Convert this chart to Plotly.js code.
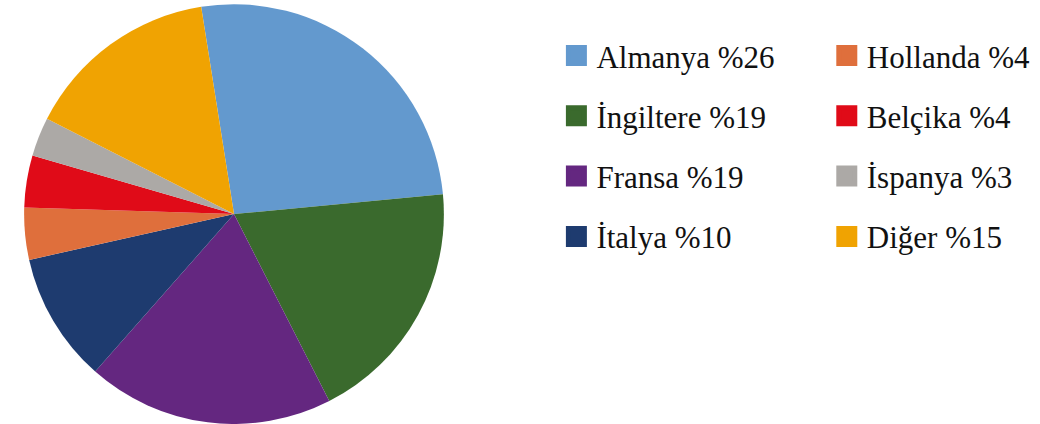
<!DOCTYPE html>
<html>
<head>
<meta charset="utf-8">
<script src="https://cdn.plot.ly/plotly-3.0.1.min.js"></script>
<style>html,body{margin:0;padding:0;background:#fff;}#chart{width:1040px;height:424px;}</style>
</head>
<body>
<div id="chart"></div>
<script>
const countries = ["Almanya", "İngiltere", "Fransa", "İtalya", "Hollanda", "Belçika", "İspanya", "Diğer"];
const shares = [26, 19, 19, 10, 4, 4, 3, 15];
const colors = ["#6399CE", "#3A6A2D", "#642780", "#1E3B6F", "#DF6F3C", "#E00B18", "#ACA9A6", "#F0A302"];
const legendLabels = countries.map((c, i) => c + " %" + shares[i]);

const traces = [{
  type: "pie",
  labels: countries,
  values: shares,
  sort: false,
  direction: "clockwise",
  rotation: -9,
  marker: {colors: colors, line: {width: 0}},
  textinfo: "none",
  hoverinfo: "label+percent",
  showlegend: false,
  domain: {x: [0.01, 0.44], y: [0.0, 0.99]}
}];

countries.forEach((c, i) => {
  traces.push({
    type: "scatter",
    mode: "markers",
    x: [null], y: [null],
    name: legendLabels[i],
    legendgroup: "g" + i,
    legend: i < 4 ? "legend" : "legend2",
    marker: {symbol: "square", size: 16, color: colors[i], line: {color: colors[i], width: 5}},
    showlegend: true,
    hoverinfo: "skip"
  });
});

const legendFont = {family: "Liberation Serif", size: 31, color: "#111"};
const layout = {
  width: 1040, height: 424,
  margin: {l: 0, r: 0, t: 0, b: 0},
  paper_bgcolor: "#fff", plot_bgcolor: "#fff",
  font: {family: "Liberation Serif"},
  xaxis: {visible: false}, yaxis: {visible: false},
  legend: {x: 0.535, y: 0.932, xanchor: "left", yanchor: "top", font: legendFont, tracegroupgap: 17, itemwidth: 30, bgcolor: "rgba(0,0,0,0)"},
  legend2: {x: 0.795, y: 0.932, xanchor: "left", yanchor: "top", font: legendFont, tracegroupgap: 17, itemwidth: 30, bgcolor: "rgba(0,0,0,0)"}
};

Plotly.newPlot("chart", traces, layout, {displayModeBar: false, staticPlot: true});
</script>
</body>
</html>
